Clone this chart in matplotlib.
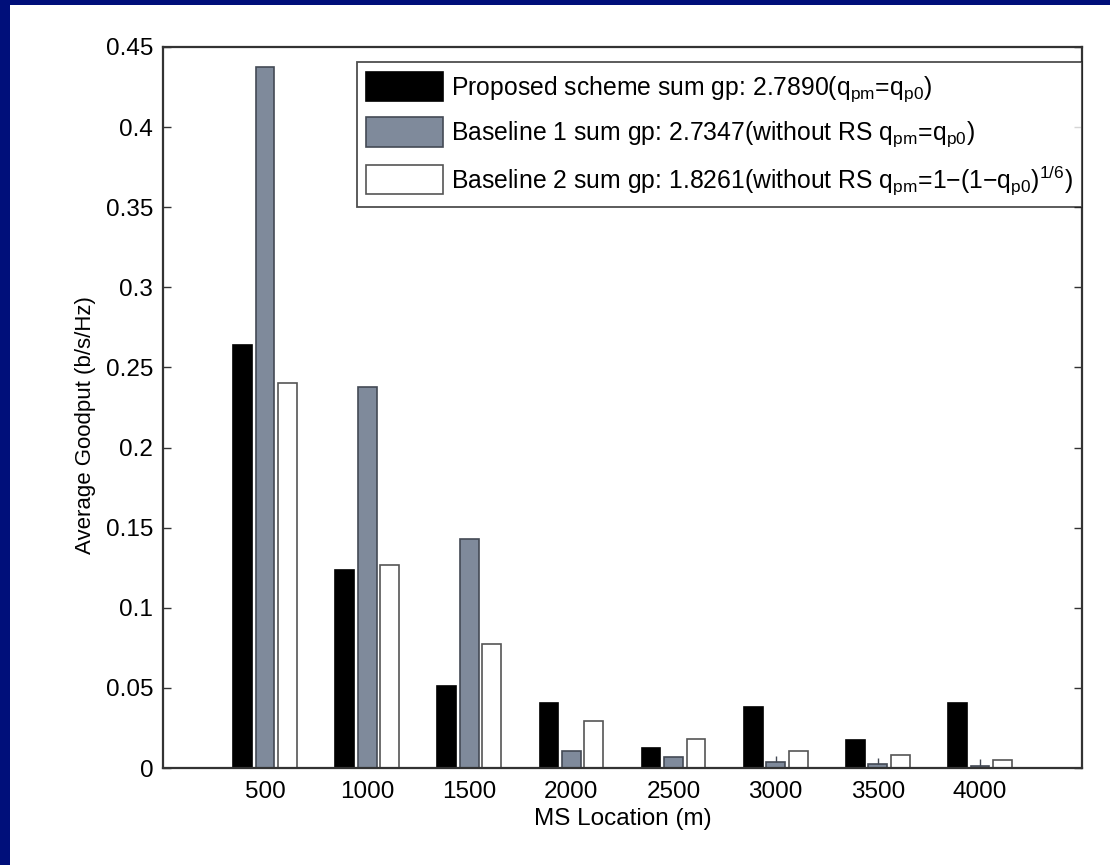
import numpy as np
import matplotlib
matplotlib.use("Agg")
import matplotlib.pyplot as plt
from matplotlib.patches import Rectangle

plt.rcParams['font.family'] = ['Liberation Sans', 'DejaVu Sans']
plt.rcParams['mathtext.fontset'] = 'custom'
plt.rcParams['mathtext.rm'] = 'Liberation Sans'
plt.rcParams['mathtext.it'] = 'Liberation Sans'
plt.rcParams['mathtext.default'] = 'regular'

# donnees
locations = [500, 1000, 1500, 2000, 2500, 3000, 3500, 4000]
proposed = [0.264, 0.1236, 0.0512, 0.0406, 0.0125, 0.038, 0.0175, 0.0406]
baseline1 = [0.4375, 0.2378, 0.143, 0.0106, 0.0069, 0.0037, 0.0025, 0.0015]
baseline2 = [0.240, 0.127, 0.0774, 0.0293, 0.0181, 0.0106, 0.0081, 0.005]
baseline1_err = [0, 0, 0, 0, 0, 0.0035, 0.004, 0.004]

labels = [
    r'Proposed scheme sum gp: 2.7890(q$_{pm}$=q$_{p0}$)',
    r'Baseline 1 sum gp: 2.7347(without RS q$_{pm}$=q$_{p0}$)',
    r'Baseline 2 sum gp: 1.8261(without RS q$_{pm}$=1$-$(1$-$q$_{p0}$)$^{1/6}$)',
]

fig = plt.figure(figsize=(11.1, 8.65), dpi=100)
fig.patch.set_facecolor('white')
# bandes bleues du cadre
fig.patches.append(Rectangle((0, 0), 10 / 1110, 1, transform=fig.transFigure,
                             facecolor='#000f7a', edgecolor='none'))
fig.patches.append(Rectangle((0, 1 - 5 / 865), 1, 5 / 865, transform=fig.transFigure,
                             facecolor='#000f7a', edgecolor='none'))

ax = fig.add_axes([0.1468, 0.1121, 0.828, 0.8336])

x = np.array(locations)
offset = 110
width = 92

ax.bar(x - offset, proposed, width=width, color='black', edgecolor='black',
       linewidth=1.2, label=labels[0])
ax.bar(x, baseline1, width=width, color='#7f8a9b', edgecolor='#444a55',
       linewidth=1.2, label=labels[1])
ax.bar(x + offset, baseline2, width=width, color='white', edgecolor='#555555',
       linewidth=1.2, label=labels[2])

err = np.array(baseline1_err)
mask = err > 0
ax.errorbar(x[mask], np.array(baseline1)[mask], yerr=[np.zeros(mask.sum()), err[mask]],
            fmt='none', ecolor='#444a55', elinewidth=1.0, capsize=0)

ax.set_xlim(0, 4500)
ax.set_ylim(0, 0.45)
ax.set_xticks(locations)
ax.set_xticklabels([str(v) for v in locations])
yt = np.arange(0, 0.451, 0.05)
ax.set_yticks(yt)
ax.set_yticklabels(['0', '0.05', '0.1', '0.15', '0.2', '0.25', '0.3', '0.35', '0.4', '0.45'])

ax.tick_params(axis='y', direction='in', length=6, width=1.0, right=True,
               labelsize=17.5, colors='#333333', labelcolor='black', pad=7)
ax.tick_params(axis='x', length=0, labelsize=17.5, pad=9)
for s in ax.spines.values():
    s.set_linewidth(1.6)
    s.set_color('#333333')

ax.set_xlabel('MS Location (m)', fontsize=17.5, labelpad=4)
ax.set_ylabel('Average Goodput (b/s/Hz)', fontsize=16)
ax.yaxis.set_label_coords(-0.073, 0.475)

leg = ax.legend(loc='upper right', bbox_to_anchor=(1.0, 0.979), fontsize=17.8,
                frameon=True, fancybox=False, edgecolor='#222222',
                handlelength=3.1, handleheight=1.45, labelspacing=0.56,
                handletextpad=0.33, borderpad=0.38, borderaxespad=0.0)
leg.get_frame().set_linewidth(1.3)

fig.savefig('out.png', dpi=100, facecolor=fig.get_facecolor())
